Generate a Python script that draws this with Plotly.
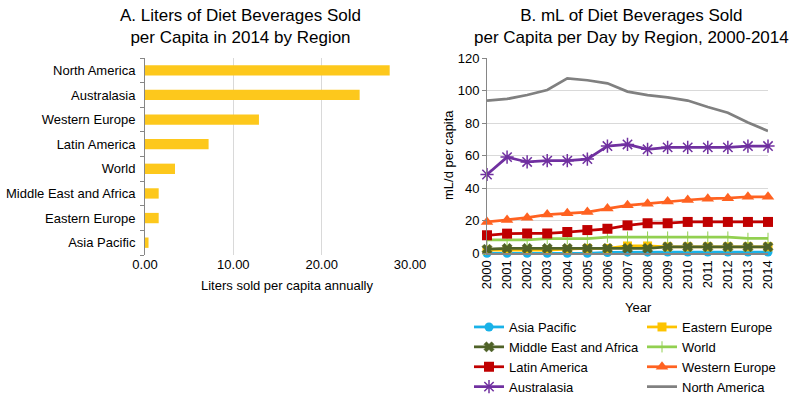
import plotly.graph_objects as go

W, H = 800, 402
def px(x): return x / W
def py(y): return 1 - y / H

FONT = "Liberation Sans, Arial, sans-serif"

# ---- Panel A data ----
regions_a = ["Asia Pacific", "Eastern Europe", "Middle East and Africa", "World",
             "Latin America", "Western Europe", "Australasia", "North America"]
liters_2014 = [0.4, 1.55, 1.55, 3.4, 7.2, 12.9, 24.3, 27.7]
x_ticks_a = [0, 10, 20, 30]

# ---- Panel B data ----
years = list(range(2000, 2015))
asia_pacific = [0, 0, 0, 0, 0, 0, 0.5, 0.7, 0.7, 0.8, 0.8, 0.8, 0.8, 0.8, 0.8]
eastern_europe = [2, 2, 2, 2, 2.5, 3, 3, 4.5, 4.5, 4, 4, 4, 4, 4, 4]
middle_east_africa = [2.5, 3, 3, 3, 3, 3, 3, 3, 3, 4, 4, 4, 4, 4, 4]
world = [8.2, 8.2, 8.2, 9, 9, 9, 10, 10, 10, 10, 10, 10, 10, 9.2, 9.2]
latin_america = [11.1, 12.1, 12.2, 12.2, 13.1, 14.3, 15.1, 17.2, 18.5, 18.5, 19.3, 19.3, 19.3, 19.3, 19.3]
western_europe = [19.3, 20.5, 21.9, 23.8, 24.6, 25.4, 27.5, 29.5, 30.5, 31.8, 32.8, 33.6, 33.9, 34.8, 34.8]
australasia = [48.5, 59.2, 56.2, 57, 57, 58, 66, 67, 64, 65.2, 65.2, 65.2, 65.2, 66, 66]
north_america = [94, 95, 97.4, 100.5, 107.7, 106.5, 104.6, 99.5, 97.4, 96, 94, 90, 86.5, 80.5, 75.3]
y_ticks_b = [0, 20, 40, 60, 80, 100, 120]

fig = go.Figure()

fig.add_trace(go.Bar(
    x=liters_2014, y=regions_a, orientation="h",
    marker=dict(color="#FDC81C", line=dict(width=0)),
    xaxis="x", yaxis="y", showlegend=False,
))

series = [
    ("Asia Pacific", asia_pacific, "#19B2E8", dict(symbol="circle", size=9), "legend"),
    ("Eastern Europe", eastern_europe, "#FDC300", dict(symbol="square", size=9), "legend2"),
    ("Middle East and Africa", middle_east_africa, "#4F6228",
     dict(symbol="x", size=9, line=dict(width=0.5, color="#4F6228")), "legend"),
    ("World", world, "#92D050",
     dict(symbol="line-ns-open", size=8, line=dict(width=1, color="#92D050")), "legend2"),
    ("Latin America", latin_america, "#C00000", dict(symbol="square", size=10), "legend"),
    ("Western Europe", western_europe, "#FF6221", dict(symbol="triangle-up", size=11), "legend2"),
    ("Australasia", australasia, "#7030A0",
     dict(symbol="asterisk-open", size=11, line=dict(width=1.5, color="#7030A0")), "legend"),
    ("North America", north_america, "#808080", None, "legend2"),
]
for name, vals, color, mk, leg in series:
    fig.add_trace(go.Scatter(
        x=years, y=vals, name=name,
        mode="lines+markers" if mk else "lines",
        line=dict(color=color, width=2.75),
        marker=dict(color=color, **mk) if mk else None,
        xaxis="x2", yaxis="y2", legend=leg, cliponaxis=False,
    ))

axis_col = "#868686"
grid_col = "#D9D9D9"
tick_font = dict(family=FONT, size=13, color="#000000")

fig.update_layout(
    width=W, height=H,
    margin=dict(l=0, r=0, t=0, b=0, autoexpand=False),
    paper_bgcolor="white", plot_bgcolor="white",
    font=dict(family=FONT, size=13, color="#000000"),
    bargap=0.58,
    xaxis=dict(domain=[px(145), px(410)], range=[0, 30], tickvals=x_ticks_a,
               tickformat=".2f", showgrid=True, gridcolor=grid_col, gridwidth=1,
               zeroline=False, showline=False, ticks="", tickfont=tick_font,
               anchor="y", automargin=False),
    yaxis=dict(domain=[py(255), py(58)], range=[-0.5, 7.5], type="category",
               showline=True, linecolor=axis_col, linewidth=1, ticks="outside",
               tickson="boundaries", ticklen=4, tickcolor=axis_col,
               tickfont=tick_font, showgrid=False, anchor="x",
               ticklabelstandoff=6, automargin=False),
    xaxis2=dict(domain=[px(487), px(768)], range=[2000, 2014], tickvals=years,
                tickangle=-90, showgrid=False, zeroline=False, showline=True,
                linecolor=axis_col, linewidth=1.5, ticks="", tickfont=tick_font,
                anchor="y2", automargin=False),
    yaxis2=dict(domain=[py(253.3), py(58.3)], range=[0, 120], tickvals=y_ticks_b,
                showgrid=True, gridcolor=grid_col, zeroline=False, showline=True,
                linecolor=axis_col, linewidth=1, ticks="outside", ticklen=4,
                tickcolor=axis_col, tickfont=tick_font, anchor="x2",
                automargin=False),
    legend=dict(x=px(469), y=py(312), xanchor="left", yanchor="top",
                orientation="v", font=dict(family=FONT, size=13),
                bgcolor="rgba(0,0,0,0)", itemwidth=30, tracegroupgap=0),
    legend2=dict(x=px(642), y=py(312), xanchor="left", yanchor="top",
                 orientation="v", font=dict(family=FONT, size=13),
                 bgcolor="rgba(0,0,0,0)", itemwidth=30, tracegroupgap=0),
)

annos = [
    dict(text="A. Liters of Diet Beverages Sold<br>per Capita in 2014 by Region",
         x=px(240), y=py(26), size=17),
    dict(text="B. mL of Diet Beverages Sold<br>per Capita per Day by Region, 2000-2014",
         x=px(631), y=py(26), size=17),
    dict(text="Liters sold per capita annually", x=px(287), y=py(285), size=13),
    dict(text="Year", x=px(638), y=py(307), size=13),
]
for a in annos:
    fig.add_annotation(text=a["text"], x=a["x"], y=a["y"], xref="paper", yref="paper",
                       xanchor="center", yanchor="middle", showarrow=False,
                       font=dict(family=FONT, size=a["size"], color="#000000"))
fig.add_annotation(text="mL/d per capita", x=px(448), y=py(155), xref="paper",
                   yref="paper", xanchor="center", yanchor="middle", showarrow=False,
                   textangle=-90, font=dict(family=FONT, size=13, color="#000000"))

fig.write_html("out.html", config={"displayModeBar": False},
               post_script="document.body.style.margin='0px';document.body.style.padding='0px';")
